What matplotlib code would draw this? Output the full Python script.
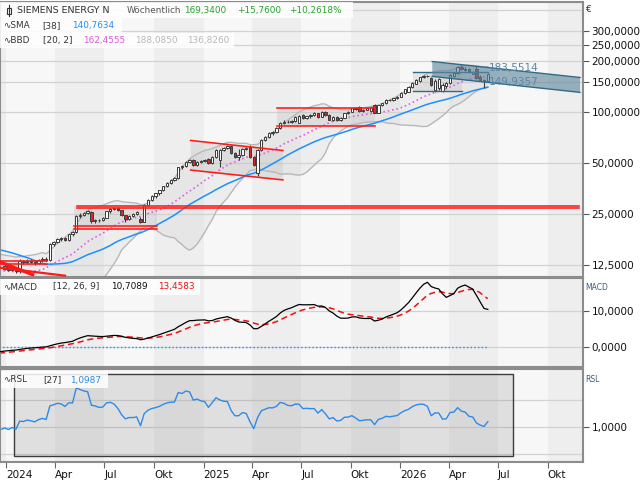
import numpy as np
import pandas as pd
import matplotlib
matplotlib.use("Agg")
import matplotlib.pyplot as plt
import matplotlib.dates as mdates
from matplotlib.patches import Rectangle, Polygon
from matplotlib.lines import Line2D
from matplotlib.ticker import NullLocator

plt.rcParams['font.family'] = ['DejaVu Sans']

# weekly closes before the visible window (only needed to warm up the indicators)
pre_closes = [18.0, 18.1, 18.8, 19.5, 20.2, 20.5, 21.2, 21.8, 22.4, 23.0,
              23.6, 24.0, 24.6, 16.4, 16.2, 16.5, 16.9, 16.2, 15.8, 14.0,
              13.3, 13.0, 12.8, 13.0, 12.6, 12.9, 12.3, 12.4, 12.0, 11.6,
              11.3, 7.6, 8.8, 9.6, 11.2, 11.0, 11.4, 11.6, 12.0, 12.1]

# weekly candles, first week ends 2023-12-29
opens = [11.9, 12.3, 11.8, 12.1, 11.5, 13.2, 13.0, 13.3, 13.1, 12.9,
         13.4, 13.7, 13.5, 16.7, 17.2, 17.8, 18.0, 17.7, 19.0, 19.6,
         24.4, 24.9, 25.4, 25.9, 22.7, 23.1, 23.2, 23.9, 26.0, 27.0,
         27.2, 26.4, 24.6, 23.5, 24.5, 25.0, 23.6, 22.6, 28.3, 30.5,
         32.0, 33.2, 34.6, 36.5, 38.3, 39.8, 41.0, 47.4, 48.2, 51.2,
         52.3, 48.9, 51.1, 51.5, 53.0, 50.0, 54.7, 52.0, 60.3, 61.3,
         63.3, 57.7, 54.7, 56.0, 60.5, 62.7, 54.7, 44.0, 60.3, 68.6,
         71.8, 75.2, 76.9, 80.5, 86.9, 88.0, 87.5, 89.0, 87.0, 96.5,
         92.0, 94.5, 96.3, 98.6, 94.0, 100.8, 96.5, 90.3, 93.8, 90.2,
         92.5, 99.0, 101.0, 105.6, 107.5, 101.2, 103.5, 101.5, 110.0, 99.5,
         110.0, 113.0, 118.0, 118.4, 121.0, 123.6, 129.5, 132.4, 140.4, 147.0,
         153.0, 161.0, 164.0, 159.0, 136.0, 140.0, 134.0, 142.0, 148.0, 164.0,
         171.0, 186.0, 178.0, 180.0, 169.0, 180.0, 162.0, 155.0, 154.0]
highs = [12.5, 12.5, 12.3, 12.2, 13.6, 13.5, 13.6, 13.7, 13.4, 13.6,
         13.9, 14.0, 17.0, 17.5, 18.2, 18.4, 18.3, 19.2, 19.9, 24.8,
         25.3, 25.8, 26.5, 26.2, 23.6, 23.6, 24.2, 26.3, 27.4, 27.6,
         27.5, 26.6, 24.9, 24.8, 25.3, 26.1, 24.0, 28.6, 30.8, 32.4,
         33.6, 35.0, 36.9, 38.8, 40.4, 41.6, 47.8, 48.9, 51.8, 53.0,
         52.8, 51.6, 52.0, 53.2, 53.6, 55.0, 61.0, 61.0, 62.0, 64.0,
         64.5, 58.5, 61.0, 61.5, 62.5, 64.2, 55.5, 60.8, 69.5, 72.5,
         76.0, 77.8, 81.5, 87.8, 89.5, 89.5, 90.0, 94.5, 96.5, 98.0,
         95.5, 97.5, 100.0, 99.5, 101.5, 102.0, 97.5, 94.5, 94.5, 93.5,
         99.5, 102.0, 106.5, 107.0, 108.5, 104.5, 106.5, 108.0, 112.0, 111.0,
         114.0, 119.0, 119.5, 122.0, 124.5, 131.5, 137.5, 142.5, 150.5, 157.5,
         162.5, 166.0, 166.5, 161.0, 157.0, 160.0, 148.0, 151.0, 168.0, 173.0,
         188.0, 190.0, 184.0, 182.0, 176.0, 187.0, 165.0, 158.0, 171.0]
lows = [11.7, 11.6, 11.5, 11.2, 11.3, 12.7, 12.8, 12.9, 12.6, 12.8,
        13.1, 13.2, 13.3, 16.3, 16.9, 17.4, 17.3, 17.5, 18.7, 19.4,
        23.8, 24.5, 25.0, 22.3, 22.2, 22.6, 22.9, 23.7, 25.6, 26.4,
        26.0, 24.3, 22.4, 23.2, 24.1, 24.7, 22.2, 22.5, 28.0, 30.0,
        31.4, 32.6, 34.1, 36.0, 37.8, 39.2, 40.6, 46.5, 47.8, 50.4,
        48.4, 48.5, 50.2, 50.9, 49.5, 49.6, 54.0, 47.5, 59.0, 60.5,
        57.0, 54.0, 52.0, 55.5, 59.5, 54.0, 48.4, 42.0, 59.0, 67.5,
        70.5, 73.5, 75.5, 79.5, 85.5, 86.0, 86.5, 88.0, 86.0, 91.0,
        91.0, 93.0, 95.0, 93.0, 93.5, 95.5, 89.5, 89.0, 89.0, 89.0,
        92.0, 98.0, 100.0, 103.0, 100.5, 100.0, 102.5, 100.5, 98.5, 98.5,
        109.0, 112.0, 116.0, 117.0, 120.0, 122.5, 128.5, 131.0, 139.5, 146.0,
        151.0, 159.5, 161.0, 143.0, 132.0, 136.0, 132.0, 140.0, 147.0, 162.0,
        169.0, 178.0, 176.0, 171.0, 168.0, 158.0, 153.0, 140.0, 152.0]
closes = [12.3, 11.8, 12.1, 11.5, 13.2, 13.0, 13.3, 13.1, 12.9, 13.4,
          13.7, 13.5, 16.7, 17.2, 17.8, 18.0, 17.7, 19.0, 19.6, 24.4,
          24.9, 25.4, 26.1, 22.7, 23.1, 23.2, 23.9, 26.0, 27.0, 27.2,
          26.4, 24.6, 23.5, 24.5, 25.0, 25.8, 22.6, 28.3, 30.5, 32.0,
          33.2, 34.6, 36.5, 38.3, 39.8, 41.0, 47.4, 48.2, 51.2, 52.3,
          48.9, 51.1, 51.5, 52.6, 50.0, 54.7, 60.0, 60.3, 61.3, 63.3,
          57.7, 54.7, 56.0, 60.5, 61.3, 54.7, 48.9, 60.3, 68.6, 71.8,
          75.2, 76.9, 80.5, 86.9, 88.0, 87.5, 89.0, 93.4, 95.5, 92.0,
          94.5, 96.3, 98.6, 94.0, 100.8, 96.5, 90.3, 93.8, 90.2, 92.5,
          99.0, 101.0, 105.6, 104.0, 101.2, 103.5, 105.8, 107.0, 99.5, 110.0,
          113.0, 118.0, 118.4, 121.0, 123.6, 130.5, 136.7, 141.6, 149.6, 156.0,
          161.0, 164.0, 163.0, 145.0, 154.0, 157.0, 145.0, 148.0, 166.0, 170.0,
          185.0, 180.0, 181.0, 173.0, 174.0, 160.0, 156.0, 153.58, 169.34]

quarter_labels = ['2024', 'Apr', 'Jul', 'Okt', '2025', 'Apr', 'Jul', 'Okt',
                  '2026', 'Apr', 'Jul', 'Okt']
price_ticks = [12.5, 25, 50, 100, 150, 200, 250, 300]
macd_ticks = [0, 10]

W, H = 640, 480


def frac(x0, y0, x1, y1):
    return [x0 / W, 1 - y1 / H, (x1 - x0) / W, (y1 - y0) / H]


def d(s):
    return mdates.date2num(pd.Timestamp(s))


pre_dates = pd.date_range(end='2023-12-22', periods=len(pre_closes), freq='7D')
dates = pd.date_range('2023-12-29', periods=len(closes), freq='7D')
all_dates = pre_dates.append(dates)
c_all = pd.Series(pre_closes + closes, index=all_dates)

# indicators
sma = c_all.rolling(38).mean()
bb_mid = c_all.rolling(20).mean()
bb_sd = c_all.rolling(20).std(ddof=0)
bb_up = bb_mid + 2 * bb_sd
bb_lo = bb_mid - 2 * bb_sd
ema12 = c_all.ewm(span=12, adjust=False).mean()
ema26 = c_all.ewm(span=26, adjust=False).mean()
macd = ema12 - ema26
signal = macd.ewm(span=9, adjust=False).mean()
rsl = c_all / c_all.rolling(27).mean()

fig = plt.figure(figsize=(6.4, 4.8), dpi=100, facecolor='white')
ax = fig.add_axes(frac(0, 2, 583, 277))
axm = fig.add_axes(frac(0, 278, 583, 367))
axr = fig.add_axes(frac(0, 369, 583, 462))

xmin, xmax = d('2023-12-20 12:00'), d('2026-12-05 12:00')
qstarts = pd.date_range('2023-10-01', '2027-01-01', freq='QS')
for a in (ax, axm, axr):
    a.set_facecolor('none')
    a.set_xlim(xmin, xmax)
    for q0, q1 in zip(qstarts[:-1], qstarts[1:]):
        col = '#f7f7f7' if q0.month in (1, 7) else '#eeeeee'
        a.axvspan(d(q0), d(q1), color=col, lw=0, zorder=0)
    for s in a.spines.values():
        s.set_color('#8c8c8c')
        s.set_linewidth(1.5)
    a.yaxis.tick_right()
    a.tick_params(axis='y', length=4, width=0.8, color='#555555', labelsize=7.5,
                  pad=2, labelcolor='#111111')
    a.tick_params(axis='x', bottom=False, labelbottom=False)

# ---------------- main price panel ----------------
ax.set_yscale('log')
ax.set_ylim(10.66, 447.8)
ax.yaxis.set_minor_locator(NullLocator())
ax.set_yticks(price_ticks)
ax.set_yticklabels([f'{v:.4f}'.replace('.', ',') for v in price_ticks])
for v in price_ticks + [400]:
    ax.axhline(v, color='#d2d2d2', lw=0.9, zorder=0.5)

xd = mdates.date2num(all_dates)
ok = bb_lo.notna()
ax.fill_between(xd[ok], bb_lo[ok], bb_up[ok], color='#d4d4d4', alpha=0.28, lw=0, zorder=1)
ax.plot(xd[ok], bb_up[ok], color='#b8b8b8', lw=1, zorder=2)
ax.plot(xd[ok], bb_lo[ok], color='#b8b8b8', lw=1, zorder=2)
ax.plot(xd[ok], bb_mid[ok], color='#e060e0', lw=1.2, ls=':', zorder=2)
ok = sma.notna()
ax.plot(xd[ok], sma[ok], color='#1e8fff', lw=1.1, zorder=2)

# drawings
red = '#ff1a1a'
rlw = 1.15
ax.plot([d('2023-12-20'), d('2024-02-19')], [13.1, 11.0], color=red, lw=2.4, zorder=3.5)
ax.plot([d('2023-12-20'), d('2024-04-19')], [12.1, 10.85], color=red, lw=1.6, zorder=3.5)
ax.fill_between([d('2023-12-20'), d('2024-03-16')], 12.8, 13.3, color='#bbbbbb', alpha=0.3, lw=0, zorder=1.5)
for v in (13.3, 12.8):
    ax.plot([d('2023-12-20'), d('2024-03-16')], [v, v], color=red, lw=rlw, zorder=3.5)

ax.fill_between([d('2024-05-05'), d('2024-10-06')], 20.4, 28.1, color='#bbbbbb', alpha=0.3, lw=0, zorder=1.5)
for v in (28.1, 27.1):
    ax.plot([d('2024-05-12'), d('2026-11-28')], [v, v], color=red, lw=rlw, zorder=3.5)
for v in (21.4, 20.4):
    ax.plot([d('2024-05-05'), d('2024-10-06')], [v, v], color=red, lw=rlw, zorder=3.5)

b0, b1 = d('2024-12-08'), d('2025-05-28')
ax.add_patch(Polygon([(b0, 68.2), (b1, 59.5), (b1, 39.9), (b0, 45.6)], closed=True,
                     fc='#bbbbbb', alpha=0.3, lw=0, zorder=1.5))
ax.plot([b0, b1], [68.2, 59.5], color=red, lw=rlw, zorder=3.5)
ax.plot([b0, b1], [45.6, 39.9], color=red, lw=rlw, zorder=3.5)

ax.fill_between([d('2025-05-17'), d('2025-11-15')], 82.7, 105.6, color='#bbbbbb', alpha=0.3, lw=0, zorder=1.5)
for v in (105.6, 82.7):
    ax.plot([d('2025-05-17'), d('2025-11-15')], [v, v], color=red, lw=rlw, zorder=3.5)

slate = '#336a85'
ax.fill_between([d('2026-01-25'), d('2026-04-25')], 133.6, 172.2, color='#bbbbbb', alpha=0.3, lw=0, zorder=1.5)
ax.plot([d('2026-01-25'), d('2026-06-12')], [172.2, 172.2], color=slate, lw=1, zorder=3.5)
ax.plot([d('2026-01-25'), d('2026-04-25')], [133.6, 133.6], color=slate, lw=1, zorder=3.5)

c0, c1 = d('2026-03-01'), d('2026-11-30')
ax.add_patch(Polygon([(c0, 199.4), (c1, 160.5), (c1, 131.1), (c0, 162.9)], closed=True,
                     fc='#5f879c', alpha=0.62, ec='none', zorder=4))
ax.plot([c0, c1], [199.4, 160.5], color=slate, lw=1, zorder=4.1)
ax.plot([c0, c1], [162.9, 131.1], color=slate, lw=1, zorder=4.1)
ax.text(d('2026-06-14'), 183.55, '183,5514', color='#5a86a3', fontsize=7.5,
        ha='left', va='center', zorder=5)
ax.text(d('2026-06-14'), 149.94, '149,9357', color='#5a86a3', fontsize=7.5,
        ha='left', va='center', zorder=5)

# candles
o, h, l, c = map(np.array, (opens, highs, lows, closes))
xc = mdates.date2num(dates)
ax.vlines(xc, l, h, color='#3a3a3a', lw=0.8, zorder=3)
body_lo = np.minimum(o, c)
body_h = np.maximum(np.abs(c - o), body_lo * 0.004)
body_col = np.where(c >= o, 'white', '#d42a2a')
ax.bar(xc, body_h, bottom=body_lo, width=4.4, color=body_col, edgecolor='#3a3a3a',
       linewidth=0.7, zorder=3.2)

# ---------------- MACD panel ----------------
axm.set_ylim(-5.64, 19.08)
axm.set_yticks(macd_ticks)
axm.set_yticklabels(['0,0000', '10,0000'])
for v in macd_ticks:
    axm.axhline(v, color='#d2d2d2', lw=0.9, zorder=0.5)
axm.plot([xd[0], xd[-1]], [0, 0], color='#1e8fff', lw=1, ls=':', zorder=2)
axm.plot(xd, signal, color='#ee1111', lw=1.1, ls=(0, (4, 2.5)), zorder=2)
axm.plot(xd, macd, color='black', lw=0.9, zorder=3)

# ---------------- RSL panel ----------------
axr.set_ylim(0.346, 2.068)
axr.set_yticks([1.0])
axr.set_yticklabels(['1,0000'])
for v in (0.5, 1.0, 1.5):
    axr.axhline(v, color='#d2d2d2', lw=0.9, zorder=0.5)
axr.add_patch(Rectangle((d('2024-01-16'), 0.463), d('2026-07-29') - d('2024-01-16'), 1.507,
                        fc='#8c8c8c', alpha=0.22, ec='none', zorder=1))
axr.add_patch(Rectangle((d('2024-01-16'), 0.463), d('2026-07-29') - d('2024-01-16'), 1.507,
                        fill=False, ec='#3c3c3c', lw=1, zorder=1.1))
ok = rsl.notna()
axr.plot(xd[ok], rsl[ok], color='#2f8ae6', lw=1, zorder=2)

qt = pd.date_range('2024-01-01', '2026-10-01', freq='QS')
axr.set_xticks(mdates.date2num(qt))
axr.set_xticklabels(quarter_labels, ha='left')
axr.tick_params(axis='x', bottom=True, labelbottom=True, length=4, width=0.8,
                color='#666666', labelsize=7.5, pad=1.5, labelcolor='#111111')

# ---------------- legends / labels ----------------
def box(x0, y0, x1, y1):
    fig.add_artist(Rectangle((x0 / W, 1 - y1 / H), (x1 - x0) / W, (y1 - y0) / H,
                             transform=fig.transFigure, fc='white', ec='none', alpha=0.85))


def txt(x, y, s, col, size=6.4):
    fig.text(x / W, 1 - y / H, s, color=col, fontsize=size, ha='left', va='center')


box(0, 2, 353, 18)
box(0, 18, 122, 33)
box(0, 33, 234, 48)
fig.add_artist(Line2D([8.5 / W, 8.5 / W], [1 - 5 / H, 1 - 16 / H], transform=fig.transFigure,
                      color='#333333', lw=0.8))
fig.add_artist(Rectangle((6.5 / W, 1 - 13.5 / H), 4 / W, 6 / H, transform=fig.transFigure,
                         fc='white', ec='#333333', lw=0.8))
txt(17, 10.5, 'SIEMENS ENERGY N', '#333333', 6.8)
txt(127, 10.5, 'Wöchentlich', '#555555')
txt(184, 10.5, '169,3400', '#2ca02c')
txt(237, 10.5, '+15,7600', '#2ca02c')
txt(289, 10.5, '+10,2618%', '#2ca02c')
txt(3, 25.5, '∿SMA', '#333333')
txt(42, 25.5, '[38]', '#333333')
txt(72, 25.5, '140,7634', '#1e8fff')
txt(3, 40.5, '∿BBD', '#333333')
txt(43, 40.5, '[20, 2]', '#333333')
txt(83, 40.5, '162,4555', '#d95bd9')
txt(135, 40.5, '188,0850', '#b8b8b8')
txt(187, 40.5, '136,8260', '#b8b8b8')

box(0, 279, 200, 295)
txt(3, 287, '∿MACD', '#333333')
txt(53, 287, '[12, 26, 9]', '#333333')
txt(111, 287, '10,7089', '#111111')
txt(158, 287, '13,4583', '#ee1111')

box(1, 371, 108, 388)
txt(3, 380, '∿RSL', '#333333')
txt(43, 380, '[27]', '#333333')
txt(70, 380, '1,0987', '#2f8ae6')

txt(586, 10, '€', '#333333', 6.5)
txt(585, 287, 'MACD', '#3d5a80', 5.5)
txt(585, 379, 'RSL', '#3d5a80', 5.5)

fig.savefig('out.png', dpi=100, facecolor='white')
